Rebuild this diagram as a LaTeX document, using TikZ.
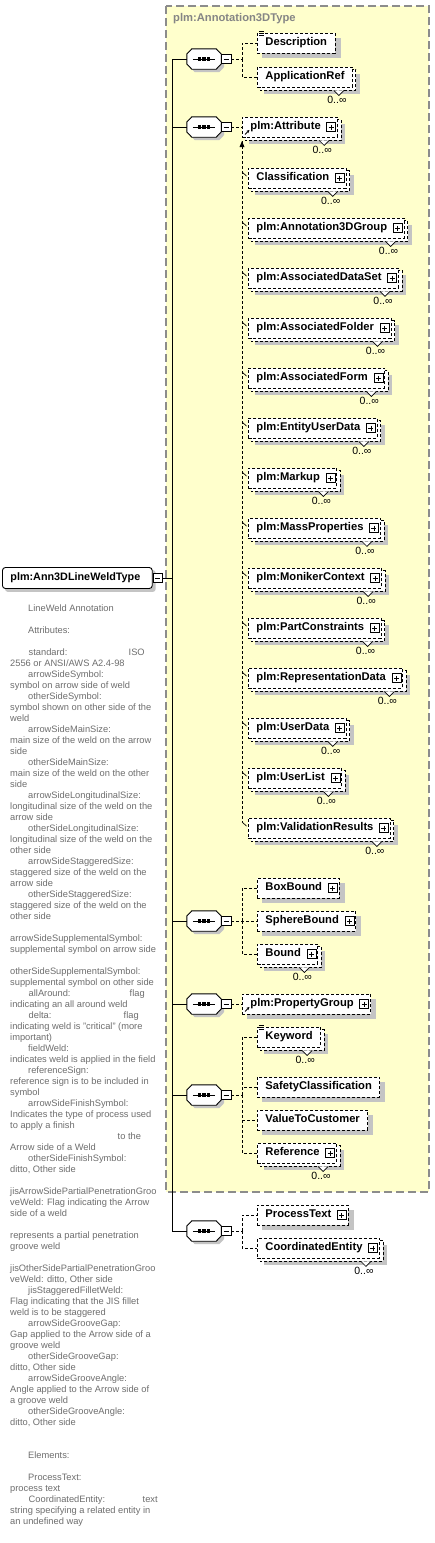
\documentclass[tikz,border=0pt]{standalone}
\usepackage{fontspec}
\setmainfont{Liberation Sans}
\usetikzlibrary{calc,arrows.meta}
\definecolor{yel}{HTML}{FFFFCC}
\definecolor{shad}{HTML}{C4C4C4}
\definecolor{docgray}{HTML}{6E6E6E}
\definecolor{hdrgray}{HTML}{858585}
\definecolor{framec}{HTML}{8C8C8C}
\pgfdeclarelayer{ybg}
\pgfdeclarelayer{shadowl}
\pgfdeclarelayer{backl}
\pgfsetlayers{ybg,shadowl,backl,main}
\tikzset{
  elbox/.style={draw=black, line width=0.9pt, dash pattern=on 3pt off 2pt, fill=white,
    font=\fontsize{11.2}{13}\selectfont\bfseries, inner xsep=8pt, inner ysep=0pt,
    text height=8pt, text depth=2.5pt, minimum height=20pt, anchor=west},
  mainbox/.style={draw=black, line width=0.9pt, solid, rounded corners=3pt, fill=white,
    font=\fontsize{10.8}{13}\selectfont\bfseries, inner xsep=8pt, inner ysep=0pt,
    text height=8pt, text depth=2.5pt, minimum height=21pt, anchor=west},
  bline/.style={draw=black, line width=0.9pt, dash pattern=on 3pt off 2pt},
  conn/.style={draw=black, line width=0.9pt, dash pattern=on 3pt off 2pt},
  trunk/.style={draw=black, line width=0.9pt},
  icon/.style={draw=black, line width=0.6pt, solid},
  mult/.style={font=\fontsize{10.5}{12}\selectfont, inner sep=0pt},
  seqbox/.style={minimum width=34pt, minimum height=20pt, inner sep=0pt},
  sqbox/.style={draw=black, solid, fill=white, line width=0.7pt, minimum size=9.5pt, inner sep=0pt},
  doc/.style={font=\fontsize{9.3}{11}\selectfont, text=docgray, inner sep=0pt, anchor=base west},
  hdr/.style={font=\fontsize{11.2}{13}\selectfont\bfseries, text=hdrgray, inner sep=0pt, anchor=west},
}
% element box: #1 name #2 x #3 y #4 text #5 multi #6 plus #7 ref #8 doc icon
\newcommand\xel[8]{%
  \node[elbox] (#1) at (#2,#3) {#4\ifnum#6=1 \makebox[9pt]{}\fi};
  \ifnum#5=1
    \begin{pgfonlayer}{shadowl}
      \fill[shad] ($(#1.north west)+(7,7)$) rectangle ($(#1.south east)+(7,7)$);
    \end{pgfonlayer}
    \begin{pgfonlayer}{backl}
      \filldraw[bline, fill=white] ($(#1.north west)+(3,3)$) rectangle ($(#1.south east)+(3,3)$);
    \end{pgfonlayer}
    \filldraw[icon, fill=white, line width=0.7pt] ($(#1.south east)+(-19,3)$) -- ($(#1.south east)+(-14,8)$) -- ($(#1.south east)+(-9,3)$);
    \node[mult] (#1-m) at ($(#1.south east)+(-16,12.5)$) {0..∞};
  \else
    \begin{pgfonlayer}{shadowl}
      \fill[shad] ($(#1.north west)+(5,5)$) rectangle ($(#1.south east)+(5,5)$);
    \end{pgfonlayer}
  \fi
  \ifnum#6=1
    \filldraw[icon, fill=white] ($(#1.east)+(-11.5,-4.5)$) rectangle ($(#1.east)+(-2.5,4.5)$);
    \draw[icon] ($(#1.east)+(-7,-2.5)$) -- ($(#1.east)+(-7,2.5)$)
                ($(#1.east)+(-9.5,0)$) -- ($(#1.east)+(-4.5,0)$);
  \fi
  \ifnum#7=1
    \draw[icon, line width=0.9pt, -{Stealth[length=3pt,width=3pt]}] ($(#1.south west)+(3,-3)$) -- ($(#1.south west)+(7.5,-7.5)$);
  \fi
  \ifnum#8=1
    \draw[icon, line width=0.6pt] ($(#1.north west)+(2,-1)$) -- ($(#1.north west)+(7,-1)$)
      ($(#1.north west)+(2,1)$) -- ($(#1.north west)+(7,1)$)
      ($(#1.north west)+(2,3)$) -- ($(#1.north west)+(7,3)$);
  \fi
}
% sequence compositor: #1 name #2 y
\newcommand\seqc[2]{%
  \node[seqbox] (#1) at (204,#2) {};
  \begin{pgfonlayer}{shadowl}
    \fill[shad] ($(#1.west)+(3,-2)$) -- ($(#1.north west)+(8,3)$) -- ($(#1.north east)+(-2,3)$) -- ($(#1.east)+(3,-2)$) -- ($(#1.east)+(3,8)$) -- ($(#1.south east)+(-2,3)$) -- ($(#1.south west)+(8,3)$) -- ($(#1.west)+(3,8)$) -- cycle;
  \end{pgfonlayer}
  \filldraw[fill=white, draw=black, line width=0.9pt] ($(#1.west)+(0,-5)$) -- ($(#1.north west)+(5,0)$) -- ($(#1.north east)+(-5,0)$) -- ($(#1.east)+(0,-5)$) -- ($(#1.east)+(0,5)$) -- ($(#1.south east)+(-5,0)$) -- ($(#1.south west)+(5,0)$) -- ($(#1.west)+(0,5)$) -- cycle;
  \draw[line width=0.9pt] ($(#1.west)+(6,0)$) -- ($(#1.east)+(-6,0)$);
  \foreach \dx in {-4.5,0,4.5} \fill ($(#1.center)+(\dx-1.6,-1.6)$) rectangle ++(3.2,3.2);
  \node[sqbox] (#1m) at ($(#1.east)+(5,0)$) {};
  \draw[line width=0.8pt] ($(#1m.center)+(-2.5,0)$) -- ($(#1m.center)+(2.5,0)$);
}
\newcommand\ind{\hspace*{18pt}}
\newcommand\tb[2]{\makebox[0pt][l]{\hspace*{#1}#2}}
\begin{document}
\begin{tikzpicture}[x=1pt,y=-1pt]
\useasboundingbox (0,0) rectangle (435,1543);
% group box
\begin{pgfonlayer}{ybg}
  \fill[white] (0,0) rectangle (435,1543);
  \filldraw[fill=yel, draw=framec, line width=1.1pt, dash pattern=on 8pt off 4pt] (166,6) rectangle (429,1192);
\end{pgfonlayer}
\node[hdr] (hdrl) at (173,19) {plm:Annotation3DType};

% main element
\node[mainbox] (main) at (2,578) {plm:Ann3DLineWeldType\makebox[4pt]{}};
\begin{pgfonlayer}{shadowl}
  \fill[shad, rounded corners=3pt] ($(main.north west)+(3,3)$) rectangle ($(main.south east)+(3,3)$);
\end{pgfonlayer}
\node[sqbox] (mainm) at ($(main.east)+(5,0)$) {};
\draw[line width=0.8pt] ($(mainm.center)+(-2.5,0)$) -- ($(mainm.center)+(2.5,0)$);

% compositors
\seqc{s1}{59}
\seqc{s2}{127}
\seqc{s3}{921}
\seqc{s4}{1004}
\seqc{s5}{1095}
\seqc{s6}{1231}

% trunk
\coordinate (tk) at (172,578);
\draw[trunk] (mainm.east) -- (tk);
\foreach \s in {s1,s2,s3,s4,s5,s6} \draw[trunk] (tk) |- (\s.west);

% elements
\xel{desc}{257}{43}{Description}{0}{0}{0}{1}
\xel{appref}{257}{77}{ApplicationRef}{1}{0}{0}{0}
\xel{attr}{242}{127}{plm:Attribute}{1}{1}{1}{0}
\xel{cls}{248}{178}{Classification}{1}{1}{0}{0}
\xel{a3g}{248}{228}{plm:Annotation3DGroup}{1}{1}{0}{0}
\xel{ads}{248}{278}{plm:AssociatedDataSet}{1}{1}{0}{0}
\xel{afo}{248}{328}{plm:AssociatedFolder}{1}{1}{0}{0}
\xel{afm}{248}{378}{plm:AssociatedForm}{1}{1}{0}{0}
\xel{eud}{248}{428}{plm:EntityUserData}{1}{1}{0}{0}
\xel{mku}{248}{478}{plm:Markup}{1}{1}{0}{0}
\xel{mpr}{248}{528}{plm:MassProperties}{1}{1}{0}{0}
\xel{mnc}{248}{578}{plm:MonikerContext}{1}{1}{0}{0}
\xel{pcs}{248}{628}{plm:PartConstraints}{1}{1}{0}{0}
\xel{rpd}{248}{678}{plm:RepresentationData}{1}{1}{0}{0}
\xel{usd}{248}{728}{plm:UserData}{1}{1}{0}{0}
\xel{usl}{248}{778}{plm:UserList}{1}{1}{0}{0}
\xel{vlr}{248}{828}{plm:ValidationResults}{1}{1}{0}{0}
\xel{boxb}{257}{888}{BoxBound}{0}{1}{0}{0}
\xel{sphb}{257}{921}{SphereBound}{0}{1}{0}{0}
\xel{bnd}{257}{954}{Bound}{1}{1}{0}{0}
\xel{prg}{242}{1004}{plm:PropertyGroup}{0}{1}{1}{0}
\xel{kwd}{257}{1037}{Keyword}{1}{0}{0}{1}
\xel{sfc}{257}{1087}{SafetyClassification}{0}{0}{0}{0}
\xel{vtc}{257}{1120}{ValueToCustomer}{0}{0}{0}{0}
\xel{rfr}{257}{1153}{Reference}{1}{1}{0}{0}
\xel{prt}{257}{1215}{ProcessText}{0}{1}{0}{0}
\xel{cde}{257}{1248}{CoordinatedEntity}{1}{1}{0}{0}

% connectors
\coordinate (j1) at (242,59);
\draw[conn] (s1m.east) -- (j1) |- (desc.west);
\draw[conn] (j1) |- (appref.west);
\draw[conn] (s2m.east) -- (attr.west);
\coordinate (sg) at (242,141);
\coordinate (sgend) at (242,822);
\draw[conn] (sg) -- (sgend);
\fill (sg) -- ++(-2.5,6) -- ++(5,0) -- cycle;
\foreach \m in {cls,a3g,ads,afo,afm,eud,mku,mpr,mnc,pcs,rpd,usd,usl,vlr}
  \draw[icon, line width=0.7pt] ($(\m.west)+(-6,-6)$) -- ($(\m.west)+(-1.5,-2)$);
\coordinate (j3) at (242,921);
\draw[conn] (s3m.east) -- (j3) -- (sphb.west);
\draw[conn] (j3) |- (boxb.west);
\draw[conn] (j3) |- (bnd.west);
\draw[conn] (s4m.east) -- (prg.west);
\coordinate (j5) at (242,1095);
\draw[conn] (s5m.east) -- (j5);
\foreach \m in {kwd,sfc,vtc,rfr} \draw[conn] (j5) |- (\m.west);
\coordinate (j6) at (242,1231);
\draw[conn] (s6m.east) -- (j6);
\foreach \m in {prt,cde} \draw[conn] (j6) |- (\m.west);

% documentation text
\foreach \t [count=\i from 0] in {
{\ind LineWeld Annotation},
{},
{\ind Attributes:},
{},
{\tb{18pt}{standard:}\tb{118pt}{ISO}},
{2556 or ANSI/AWS A2.4-98},
{\ind arrowSideSymbol:},
{symbol on arrow side of weld},
{\ind otherSideSymbol:},
{symbol shown on other side of the},
{weld},
{\ind arrowSideMainSize:},
{main size of the weld on the arrow},
{side},
{\ind otherSideMainSize:},
{main size of the weld on the other},
{side},
{\ind arrowSideLongitudinalSize:},
{longitudinal size of the weld on the},
{arrow side},
{\ind otherSideLongitudinalSize:},
{longitudinal size of the weld on the},
{other side},
{\ind arrowSideStaggeredSize:},
{staggered size of the weld on the},
{arrow side},
{\ind otherSideStaggeredSize:},
{staggered size of the weld on the},
{other side},
{},
{arrowSideSupplementalSymbol:},
{supplemental symbol on arrow side},
{},
{otherSideSupplementalSymbol:},
{supplemental symbol on other side},
{\tb{18pt}{allAround:}\tb{119pt}{flag}},
{indicating an all around weld},
{\tb{18pt}{delta:}\tb{113pt}{flag}},
{indicating weld is "critical" (more},
{important)},
{\ind fieldWeld:},
{indicates weld is applied in the field},
{\ind referenceSign:},
{reference sign is to be included in},
{symbol},
{\ind arrowSideFinishSymbol:},
{Indicates the type of process used},
{to apply a finish},
{\tb{107pt}{to the}},
{Arrow side of a Weld},
{\ind otherSideFinishSymbol:},
{ditto, Other side},
{},
{jisArrowSidePartialPenetrationGroo},
{veWeld: Flag indicating the Arrow},
{side of a weld},
{},
{represents a partial penetration},
{groove weld},
{},
{jisOtherSidePartialPenetrationGroo},
{veWeld: ditto, Other side},
{\ind jisStaggeredFilletWeld:},
{Flag indicating that the JIS fillet},
{weld is to be staggered},
{\ind arrowSideGrooveGap:},
{Gap applied to the Arrow side of a},
{groove weld},
{\ind otherSideGrooveGap:},
{ditto, Other side},
{\ind arrowSideGrooveAngle:},
{Angle applied to the Arrow side of},
{a groove weld},
{\ind otherSideGrooveAngle:},
{ditto, Other side},
{},
{},
{\ind Elements:},
{},
{\ind ProcessText:},
{process text},
{\tb{18pt}{CoordinatedEntity:}\tb{132pt}{text}},
{string specifying a related entity in},
{an undefined way}}
  \node[doc] (d\i) at (10,{611.5+11*\i}) {\t};
\end{tikzpicture}
\end{document}
